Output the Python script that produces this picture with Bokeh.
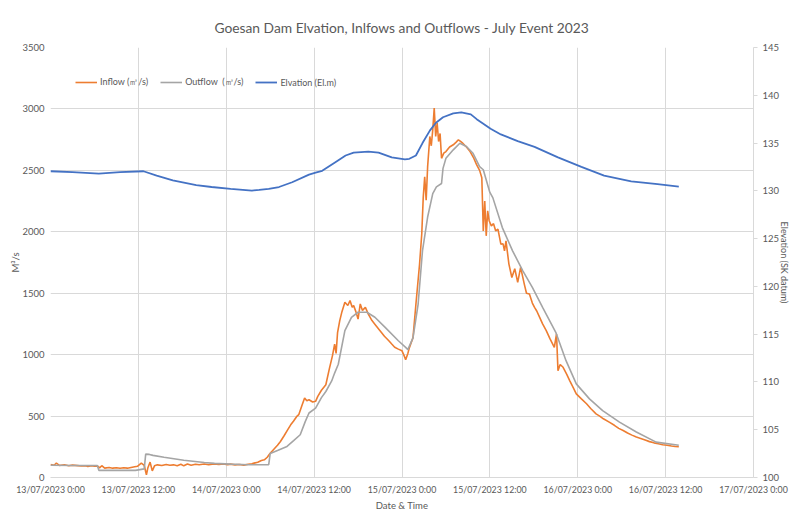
from bokeh.plotting import figure
from bokeh.models import Range1d, LinearAxis, FixedTicker, Legend, LegendItem
from bokeh.embed import file_html
from bokeh.resources import INLINE

# ---- data (hours after 13/07/2023 0:00) ----
inflow_hours = [0, 0.5, 0.8, 1.2, 1.9, 2.5, 3.0, 3.7, 4.2, 4.8, 5.1, 5.6, 6.0, 6.4, 6.7, 7.0, 7.4, 8.0, 8.5, 9.0,
                9.5, 10.0, 10.5, 11.0, 11.5, 11.9, 12.4, 12.8, 13.1, 13.3, 13.6, 13.9, 14.2, 14.6, 15.2, 15.8, 16.3,
                16.8, 17.3, 17.8, 18.2, 18.7, 19.2, 19.8, 20.3, 21.0, 21.6, 22.3, 23.0, 23.6, 24.2, 24.6, 25.2, 25.8,
                26.4, 27.0, 27.5, 27.8, 28.3, 28.8, 29.2, 29.6, 30.0, 30.5, 31.0, 31.4, 31.9, 32.4, 32.8, 33.2, 33.6,
                33.9, 34.3, 34.7, 35.0, 35.3, 35.8, 36.2, 36.5, 37.0, 37.6, 38.1, 38.5, 38.8, 39.0, 39.2, 39.5, 39.8,
                40.2, 40.6, 40.9, 41.2, 41.4, 41.7, 42.0, 42.3, 42.6, 43.0, 43.4, 43.9, 44.4, 45.0, 45.6, 46.2, 46.6,
                47.0, 47.5, 48.0, 48.3, 48.5, 48.8, 49.0, 49.5, 49.9, 50.4, 50.7, 50.9, 51.1, 51.3, 51.5, 51.8, 52.0,
                52.2, 52.4, 52.6, 52.8, 53.0, 53.2, 53.4, 53.7, 54.0, 54.5, 55.0, 55.4, 55.7, 56.0, 56.3, 56.8, 57.3,
                57.8, 58.2, 58.6, 58.9, 59.1, 59.3, 59.5, 59.7, 59.9, 60.2, 60.5, 60.8, 61.1, 61.5, 61.8, 62.0, 62.2,
                62.6, 63.0, 63.4, 63.8, 64.2, 64.7, 65.0, 65.4, 65.8, 66.1, 66.4, 66.8, 67.2, 67.7, 68.2, 68.8, 69.1,
                69.3, 69.6, 70.0, 70.5, 70.9, 71.4, 71.8, 72.5, 73.2, 73.8, 74.5, 75.0, 75.5, 76.3, 77.0, 77.6, 78.2,
                78.8, 79.4, 80.0, 80.6, 81.2, 81.8, 82.4, 83.0, 83.6, 84.2, 84.8, 85.3, 85.8]
inflow_values = [105, 100, 118, 98, 104, 96, 101, 97, 93, 96, 90, 95, 92, 94, 78, 96, 76, 82, 76, 80,
                 75, 80, 76, 82, 88, 92, 117, 98, 22, 80, 125, 54, 95, 103, 98, 106, 100,
                 103, 96, 108, 95, 110, 100, 108, 104, 110, 104, 111, 106, 110, 105, 109, 103, 106,
                 101, 108, 112, 117, 124, 138, 144, 165, 198, 230, 262, 293, 340, 390, 429, 460, 495,
                 511, 580, 647, 625, 633, 615, 620, 660, 710, 755, 890, 990, 1086, 1010, 1180, 1277, 1350,
                 1426, 1400, 1440, 1385, 1399, 1350, 1290, 1413, 1360, 1385, 1330, 1277, 1240, 1195, 1150, 1113, 1086,
                 1060, 1045, 1031, 990, 959, 1010, 1055, 1137, 1410, 1738, 1984, 2280, 2448, 2257, 2530, 2776, 2700,
                 2830, 3008, 2776, 2885, 2735, 2800, 2598, 2640, 2653, 2690, 2708, 2730, 2749, 2735, 2721, 2690, 2653,
                 2600, 2544, 2500, 2440, 2007, 2251, 1967, 2170, 2090, 2048, 2066, 2007, 2021, 1899, 1902, 1845, 1926,
                 1737, 1628, 1700, 1588, 1710, 1574, 1500, 1493, 1420, 1385, 1355, 1303, 1250, 1195, 1130, 1060, 1168,
                 870, 920, 897, 840, 789, 730, 681, 640, 600, 560, 518, 500, 478, 451, 425, 400, 383,
                 362, 345, 329, 318, 305, 292, 282, 274, 266, 262, 256, 252, 250]

outflow_hours = [0, 3, 6.4, 6.6, 11.6, 12.8, 13.0, 13.5, 14.0, 15.5, 18.2, 21.0, 22.4, 24.6, 27.0, 29.8, 30.0,
                 31.0, 32.3, 33.2, 34.1, 34.8, 35.3, 36.2, 37.0, 37.6, 38.4, 38.8, 39.3, 40.2, 41.1, 42.0, 43.2,
                 44.3, 45.7, 47.5, 48.5, 48.8, 49.5, 50.2, 50.8, 51.5, 52.2, 52.7, 53.4, 53.6, 54.0, 55.0, 55.9,
                 56.8, 57.7, 58.6, 59.1, 60.0, 60.4, 61.7, 63.1, 64.5, 65.8, 67.2, 69.0, 70.4, 71.8, 73.6, 75.4,
                 77.7, 80.0, 82.7, 85.8]
outflow_values = [100, 98, 98, 58, 58, 70, 190, 188, 180, 165, 140, 122, 115, 109, 104, 104, 195,
                  220, 253, 300, 348, 457, 525, 565, 650, 700, 786, 850, 922, 1195, 1304, 1345, 1345,
                  1304, 1222, 1113, 1059, 1041, 1137, 1410, 1847, 2120, 2311, 2366, 2393, 2516, 2598, 2667, 2721,
                  2694, 2639, 2530, 2505, 2320, 2278, 2034, 1845, 1682, 1547, 1385, 1182, 951, 762, 640, 545,
                  451, 370, 288, 262]

elev_hours = [0, 3, 6.6, 9.5, 12.7, 14.5, 16.7, 19.9, 22, 24.6, 27.5, 28.5, 29.8, 31.2, 33.0, 35.3, 36.2, 37.1,
              38.9, 40.3, 41.4, 43.4, 44.8, 46.6, 48.4, 49.0, 49.9, 50.8, 51.8, 52.6, 53.6, 55.0, 56.1, 57.4,
              58.2, 60.1, 61.5, 63.8, 66.1, 69.3, 72.5, 75.6, 79.3, 82.9, 85.8]
elev_values = [132.05, 131.95, 131.8, 131.95, 132.05, 131.6, 131.1, 130.6, 130.4, 130.2, 130.03, 130.1, 130.2,
               130.4, 130.9, 131.7, 131.9, 132.1, 133.0, 133.7, 134.0, 134.1, 134.0, 133.5, 133.3, 133.35, 133.7,
               135.0, 136.3, 137.1, 137.7, 138.1, 138.2, 138.0, 137.5, 136.5, 135.9, 135.2, 134.6, 133.5, 132.5,
               131.6, 131.0, 130.7, 130.45]

x_ticks = [0, 12, 24, 36, 48, 60, 72, 84, 96]
x_labels = ["13/07/2023 0:00", "13/07/2023 12:00", "14/07/2023 0:00", "14/07/2023 12:00", "15/07/2023 0:00",
            "15/07/2023 12:00", "16/07/2023 0:00", "16/07/2023 12:00", "17/07/2023 0:00"]
flow_ticks = [0, 500, 1000, 1500, 2000, 2500, 3000, 3500]
elev_ticks = [100, 105, 110, 115, 120, 125, 130, 135, 140, 145]

FONT = "Lato"
TXT = "#595959"
GRID = "#D9D9D9"

p = figure(width=794, height=523, x_range=Range1d(0, 96), y_range=Range1d(0, 3500),
           output_backend="svg", toolbar_location=None,
           min_border_left=50, min_border_right=41, min_border_top=47, min_border_bottom=46,
           title="Goesan Dam Elvation, Inlfows and Outflows - July Event 2023")
p.extra_y_ranges = {"elev": Range1d(100, 145)}
p.outline_line_color = None

p.title.align = "center"
p.title.text_font = FONT
p.title.text_font_size = "13.8px"
p.title.text_font_style = "normal"
p.title.text_color = TXT
p.title.standoff = 23

# axes
xa = p.xaxis[0]
xa.ticker = FixedTicker(ticks=x_ticks)
xa.major_label_overrides = dict(zip(x_ticks, x_labels))
xa.axis_label = "Date & Time"
xa.axis_line_color = GRID
xa.major_tick_line_color = None
xa.major_tick_out = 0
xa.major_tick_in = 0
xa.minor_tick_line_color = None
xa.minor_tick_out = 0
xa.major_label_standoff = 6
xa.axis_label_standoff = 2

ya = p.yaxis[0]
ya.ticker = FixedTicker(ticks=flow_ticks)
ya.axis_label = "M³/s"
ya.axis_line_color = None
ya.major_tick_line_color = None
ya.major_tick_out = 0
ya.major_tick_in = 0
ya.minor_tick_line_color = None
ya.minor_tick_out = 0
ya.major_label_standoff = 6
ya.axis_label_standoff = -2

ra = LinearAxis(y_range_name="elev", ticker=FixedTicker(ticks=elev_ticks), axis_label="Elevation (SK datum)")
ra.axis_line_color = GRID
ra.major_tick_line_color = GRID
ra.major_tick_out = 4
ra.major_tick_in = 0
ra.minor_tick_line_color = None
ra.minor_tick_out = 0
ra.major_label_standoff = 5
ra.axis_label_standoff = -3
p.add_layout(ra, "right")

for ax in (xa, ya, ra):
    ax.major_label_text_font = FONT
    ax.major_label_text_font_size = "9.5px"
    ax.major_label_text_color = TXT
    ax.axis_label_text_font = FONT
    ax.axis_label_text_font_size = "9.5px"
    ax.axis_label_text_font_style = "normal"
    ax.axis_label_text_color = TXT
xa.major_label_text_font_size = "8.8px"
ra.axis_label_text_font_size = "9px"

p.xgrid.ticker = FixedTicker(ticks=x_ticks)
p.xgrid.grid_line_color = GRID
p.ygrid.grid_line_color = GRID

r_in = p.line(inflow_hours, inflow_values, line_color="#ED7D31", line_width=1.6)
r_out = p.line(outflow_hours, outflow_values, line_color="#A5A5A5", line_width=1.6)
r_el = p.line(elev_hours, elev_values, line_color="#4472C4", line_width=1.8, y_range_name="elev")

legend = Legend(items=[LegendItem(label="Inflow (㎥/s)", renderers=[r_in]),
                       LegendItem(label="Outflow  (㎥/s)", renderers=[r_out]),
                       LegendItem(label="Elvation (El.m)", renderers=[r_el])],
                orientation="horizontal", location=(25, 388))
legend.border_line_color = None
legend.background_fill_alpha = 0
legend.label_text_font = FONT
legend.label_text_font_size = "9px"
legend.label_text_color = TXT
legend.glyph_width = 22
legend.glyph_height = 14
legend.label_height = 14
legend.label_standoff = 3
legend.spacing = 12
legend.padding = 5
legend.margin = 0
p.add_layout(legend)

open("out.html", "w").write(file_html(p, INLINE))
